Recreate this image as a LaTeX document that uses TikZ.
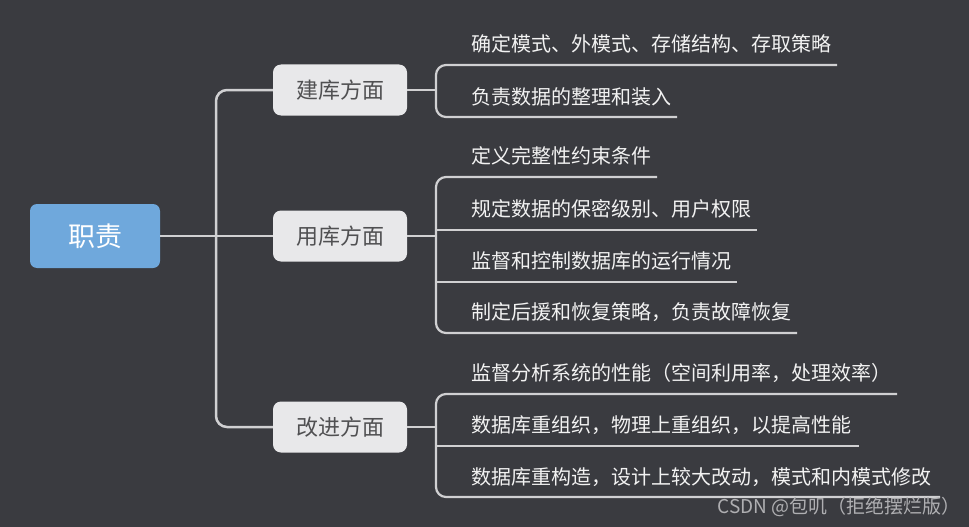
\documentclass[tikz,border=0pt]{standalone}
\usepackage{fontspec}
\newfontfamily\cjk{Noto Sans CJK SC}
\definecolor{bg}{RGB}{58,59,64}
\definecolor{linec}{RGB}{208,208,210}
\definecolor{branchfill}{RGB}{232,232,234}
\definecolor{branchtext}{RGB}{80,80,82}
\definecolor{rootfill}{RGB}{111,168,220}
\definecolor{leaftext}{RGB}{242,242,242}
\definecolor{wm}{RGB}{175,175,178}
\tikzset{
  rootbox/.style={fill=rootfill, rounded corners=7pt, minimum width=130pt, minimum height=64pt, inner sep=0pt, text=white, font=\cjk\fontsize{27}{30}\selectfont},
  branchbox/.style={fill=branchfill, rounded corners=8pt, minimum width=134pt, minimum height=51pt, inner sep=0pt, text=branchtext, font=\cjk\fontsize{22}{26}\selectfont},
  leaf/.style={anchor=west, inner sep=0pt, text=leaftext, font=\cjk\fontsize{20}{24}\selectfont},
  mainline/.style={draw=linec, line width=2.5pt},
  subline/.style={draw=linec, line width=2.2pt},
}
\begin{document}
\begin{tikzpicture}[x=1pt,y=-1pt]
\fill[bg] (0,0) rectangle (969,527);
\useasboundingbox (0,0) rectangle (969,527);

\node[rootbox] (root) at (95,236) {职责};
\node[branchbox] (b1) at (340,90) {建库方面};
\node[branchbox] (b2) at (340,236) {用库方面};
\node[branchbox] (b3) at (340,427) {改进方面};

% spine
\draw[mainline] (root.east) -- (b2.west);
\draw[mainline, rounded corners=11pt] (b1.west) -- (216,90) -- (216,427) -- (b3.west);

% leaves
\node[leaf] (l11) at (471,44) {确定模式、外模式、存储结构、存取策略};
\node[leaf] (l12) at (471,97) {负责数据的整理和装入};
\node[leaf] (l21) at (471,156) {定义完整性约束条件};
\node[leaf] (l22) at (471,209) {规定数据的保密级别、用户权限};
\node[leaf] (l23) at (471,261) {监督和控制数据库的运行情况};
\node[leaf] (l24) at (471,312) {制定后援和恢复策略，负责故障恢复};
\node[leaf] (l31) at (471,373) {监督分析系统的性能（空间利用率，处理效率）};
\node[leaf] (l32) at (471,425) {数据库重组织，物理上重组织，以提高性能};
\node[leaf] (l33) at (471,477) {数据库重构造，设计上较大改动，模式和内模式修改};

\coordinate (e11) at (837,65);
\coordinate (e12) at (677,117);
\coordinate (e21) at (657,177);
\coordinate (e22) at (757,230);
\coordinate (e23) at (737,282);
\coordinate (e24) at (797,333);
\coordinate (e31) at (897,394);
\coordinate (e32) at (859,446);
\coordinate (e33) at (940,497);

% bracket 1
\draw[mainline] (b1.east) -- (436,90);
\draw[subline, rounded corners=10pt] (e11) -- (436,65) -- (436,117) -- (e12);
% bracket 2
\draw[mainline] (b2.east) -- (436,236);
\draw[subline, rounded corners=10pt] (e21) -- (436,177) -- (436,333) -- (e24);
\draw[subline] (436,230) -- (e22);
\draw[subline] (436,282) -- (e23);
% bracket 3
\draw[mainline] (b3.east) -- (436,427);
\draw[subline, rounded corners=10pt] (e31) -- (436,394) -- (436,497) -- (e33);
\draw[subline] (436,446) -- (e32);

% watermark
\node[anchor=east, inner sep=0pt, text=wm, font=\cjk\fontsize{19}{22}\selectfont] (wmark) at (961,507) {CSDN @包叽（拒绝摆烂版）};
\end{tikzpicture}
\end{document}
